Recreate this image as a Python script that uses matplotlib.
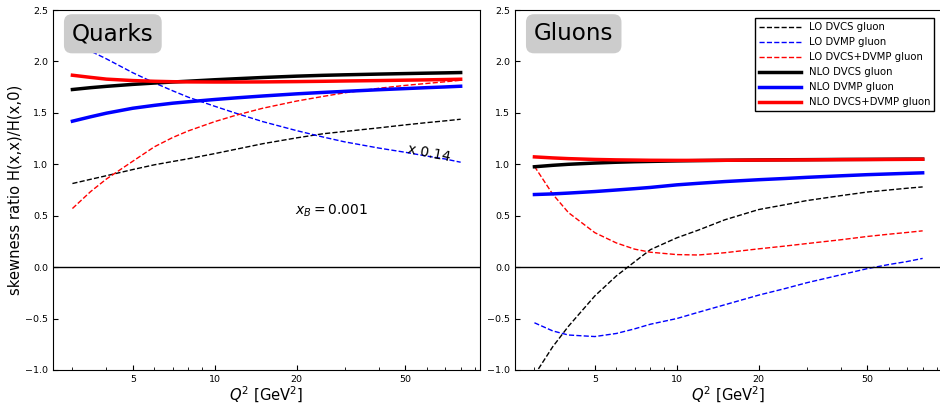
import numpy as np
import matplotlib
matplotlib.use("Agg")
import matplotlib.pyplot as plt
from matplotlib.ticker import FixedLocator, FixedFormatter, NullFormatter

# Q^2 grid [GeV^2]
q2 = [3, 3.5, 4, 5, 6, 7, 8, 10, 12, 15, 20, 25, 30, 40, 50, 60, 70, 80]

# ---- quark skewness ratios (x_B = 0.001) ----
quark_lo_dvcs = [0.813, 0.854, 0.889, 0.949, 0.995, 1.027, 1.054, 1.104, 1.147, 1.200,
                 1.257, 1.297, 1.319, 1.354, 1.383, 1.405, 1.422, 1.438]
quark_lo_dvmp = [2.190, 2.100, 2.025, 1.890, 1.792, 1.715, 1.652, 1.564, 1.495, 1.415,
                 1.327, 1.265, 1.218, 1.158, 1.117, 1.080, 1.052, 1.020]  # scaled by 0.14
quark_lo_comb = [0.570, 0.735, 0.857, 1.030, 1.170, 1.260, 1.325, 1.415, 1.478, 1.545,
                 1.615, 1.660, 1.695, 1.739, 1.767, 1.786, 1.802, 1.817]
quark_nlo_dvcs = [1.727, 1.745, 1.758, 1.777, 1.790, 1.800, 1.808, 1.822, 1.832, 1.844,
                  1.857, 1.865, 1.870, 1.877, 1.882, 1.886, 1.889, 1.892]
quark_nlo_dvmp = [1.419, 1.462, 1.497, 1.545, 1.573, 1.594, 1.608, 1.630, 1.646, 1.664,
                  1.685, 1.699, 1.709, 1.725, 1.736, 1.745, 1.752, 1.759]
quark_nlo_comb = [1.866, 1.845, 1.828, 1.814, 1.807, 1.803, 1.801, 1.800, 1.800, 1.801,
                  1.804, 1.807, 1.810, 1.814, 1.818, 1.821, 1.824, 1.827]

# ---- gluon skewness ratios ----
gluon_lo_dvcs = [-1.050, -0.775, -0.575, -0.280, -0.085, 0.052, 0.170, 0.285, 0.360, 0.460,
                 0.560, 0.607, 0.647, 0.695, 0.730, 0.750, 0.767, 0.780]
gluon_lo_dvmp = [-0.541, -0.620, -0.660, -0.675, -0.645, -0.600, -0.555, -0.500, -0.439, -0.366,
                 -0.272, -0.208, -0.152, -0.075, -0.015, 0.025, 0.054, 0.085]
gluon_lo_comb = [0.980, 0.710, 0.530, 0.335, 0.235, 0.175, 0.145, 0.122, 0.118, 0.140,
                 0.178, 0.205, 0.229, 0.266, 0.298, 0.320, 0.337, 0.353]
gluon_nlo_dvcs = [0.976, 0.990, 1.000, 1.012, 1.020, 1.025, 1.028, 1.033, 1.036, 1.039,
                  1.042, 1.044, 1.045, 1.047, 1.048, 1.049, 1.050, 1.050]
gluon_nlo_dvmp = [0.706, 0.712, 0.720, 0.735, 0.750, 0.763, 0.775, 0.800, 0.815, 0.832,
                  0.850, 0.862, 0.873, 0.888, 0.899, 0.906, 0.912, 0.917]
gluon_nlo_comb = [1.072, 1.062, 1.055, 1.047, 1.043, 1.041, 1.039, 1.038, 1.038, 1.039,
                  1.041, 1.042, 1.043, 1.045, 1.046, 1.047, 1.048, 1.049]

legend_labels = ["LO DVCS gluon", "LO DVMP gluon", "LO DVCS+DVMP gluon",
                 "NLO DVCS gluon", "NLO DVMP gluon", "NLO DVCS+DVMP gluon"]
xticks = [5, 10, 20, 50]
xminor = [3, 4, 6, 7, 8, 9, 30, 40, 60, 70, 80, 90]
yticks = [-1.0, -0.5, 0.0, 0.5, 1.0, 1.5, 2.0, 2.5]

fig = plt.figure(figsize=(9.4, 4.04), dpi=100)
axq = fig.add_axes([0.0564, 0.0842, 0.4543, 0.891])
axg = fig.add_axes([0.5479, 0.0842, 0.4543, 0.891])

styles = [("k", "--", 1.0), ("b", "--", 1.0), ("r", "--", 1.0),
          ("k", "-", 2.5), ("b", "-", 2.5), ("r", "-", 2.5)]

quark_series = [quark_lo_dvcs, quark_lo_dvmp, quark_lo_comb,
                quark_nlo_dvcs, quark_nlo_dvmp, quark_nlo_comb]
gluon_series = [gluon_lo_dvcs, gluon_lo_dvmp, gluon_lo_comb,
                gluon_nlo_dvcs, gluon_nlo_dvmp, gluon_nlo_comb]

for ax, series, name in [(axq, quark_series, "Quarks"), (axg, gluon_series, "Gluons")]:
    for (c, ls, lw), vals, lab in zip(styles, series, legend_labels):
        ax.plot(q2, vals, color=c, ls=ls, lw=lw, label=lab)
    ax.axhline(0.0, color="k", lw=1.0)
    ax.set_xscale("log")
    ax.set_ylim(-1.0, 2.5)
    ax.xaxis.set_major_locator(FixedLocator(xticks))
    ax.xaxis.set_major_formatter(FixedFormatter([str(t) for t in xticks]))
    ax.xaxis.set_minor_locator(FixedLocator(xminor))
    ax.xaxis.set_minor_formatter(NullFormatter())
    ax.set_yticks(yticks)
    ax.tick_params(which="both", direction="in", labelsize=6.8)
    ax.tick_params(which="major", length=3.5)
    ax.tick_params(which="minor", length=2)
    ax.set_xlabel(r"$Q^2$ [GeV$^2$]", fontsize=10.6, labelpad=1)
    ax.text(0.0445, 0.966, name, transform=ax.transAxes, ha="left", va="top",
            fontsize=16.6,
            bbox=dict(boxstyle="round,pad=0.35", fc="#cccccc", ec="none"))

axq.set_ylabel("skewness ratio H(x,x)/H(x,0)", fontsize=10.6, labelpad=2)
axq.text(26.9, 0.55, r"$x_B = 0.001$", fontsize=10, ha="center", va="center")
axq.text(61.3, 1.108, "x 0.14", fontsize=10, ha="center", va="center", rotation=-11)

axg.legend(loc="upper right", bbox_to_anchor=(0.9813, 0.9778), borderaxespad=0,
           fontsize=7.3, handlelength=4.2, handletextpad=0.7, labelspacing=0.5,
           fancybox=False, edgecolor="k", framealpha=1.0)

fig.savefig("out.png", dpi=100)
